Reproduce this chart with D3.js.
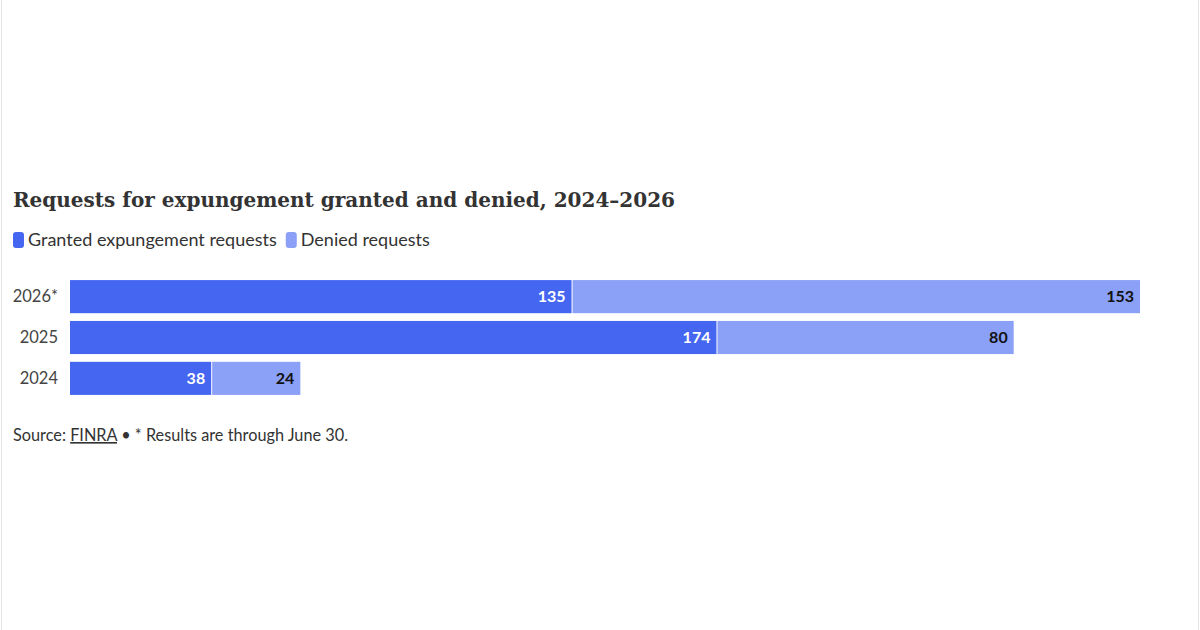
<!DOCTYPE html>
<html>
<head>
<meta charset="utf-8">
<script src="https://cdn.jsdelivr.net/npm/d3@7"></script>
<style>
  html, body { margin: 0; padding: 0; background: #fff; }
  svg { display: block; }
</style>
</head>
<body>
<svg id="chart" width="1200" height="630"></svg>
<script>
const categories = ["2026*", "2025", "2024"];
const seriesNames = ["Granted expungement requests", "Denied requests"];
const granted = [135, 174, 38];
const denied = [153, 80, 24];
const colors = ["#4566f0", "#8ba0f7"];
const labelColors = ["#ffffff", "#111111"];

const svg = d3.select("#chart");
const W = 1200, H = 630;

// side borders
svg.append("line").attr("x1", 1.5).attr("x2", 1.5).attr("y1", 0).attr("y2", H).attr("stroke", "#e6e6e6").attr("stroke-width", 1);
svg.append("line").attr("x1", W - 1.5).attr("x2", W - 1.5).attr("y1", 0).attr("y2", H).attr("stroke", "#e6e6e6").attr("stroke-width", 1);

// title
svg.append("text")
  .attr("x", 13).attr("y", 207)
  .attr("font-family", "'DejaVu Serif', serif")
  .attr("font-weight", "bold")
  .attr("font-size", 20)
  .attr("fill", "#333")
  .text("Requests for expungement granted and denied, 2024–2026");

// legend
const legend = svg.append("g");
let lx = 13;
seriesNames.forEach((name, i) => {
  legend.append("rect").attr("x", lx).attr("y", 232).attr("width", 11).attr("height", 16).attr("rx", 3).attr("fill", colors[i]);
  const t = legend.append("text").attr("x", lx + 15).attr("y", 246)
    .attr("font-family", "Lato, sans-serif").attr("font-size", 18).attr("fill", "#333").text(name);
  lx += 15 + t.node().getComputedTextLength() + 9;
});

// scales
const totals = categories.map((c, i) => granted[i] + denied[i]);
const x = d3.scaleLinear().domain([0, d3.max(totals)]).range([70, 1140]);
const y = d3.scaleBand().domain(categories).range([276, 399]).paddingInner(0.19).paddingOuter(0.1);

const stackData = categories.map((c, i) => ({ cat: c, g: granted[i], d: denied[i] }));
const stack = d3.stack().keys(["g", "d"])(stackData);

stack.forEach((layer, si) => {
  const g = svg.append("g");
  g.selectAll("rect").data(layer).enter().append("rect")
    .attr("x", d => x(d[0]) + (si > 0 ? 1 : 0))
    .attr("y", d => y(d.data.cat))
    .attr("width", d => x(d[1]) - x(d[0]) - (si > 0 ? 1 : 0))
    .attr("height", y.bandwidth())
    .attr("fill", colors[si]);
  g.selectAll("text").data(layer).enter().append("text")
    .attr("x", d => x(d[1]) - 6)
    .attr("y", d => y(d.data.cat) + y.bandwidth() / 2)
    .attr("dy", "0.35em")
    .attr("text-anchor", "end")
    .attr("font-family", "Lato, sans-serif")
    .attr("font-weight", "bold")
    .attr("font-size", 16)
    .attr("fill", labelColors[si])
    .text(d => d[1] - d[0]);
});

// y axis labels
const yAxis = d3.axisLeft(y).tickSize(0).tickPadding(12);
const ya = svg.append("g").attr("transform", "translate(70,0)").call(yAxis);
ya.select(".domain").remove();
ya.selectAll("text").attr("font-family", "Lato, sans-serif").attr("font-size", 16.5).attr("fill", "#444");

// source
const src = svg.append("text").attr("x", 13).attr("y", 441)
  .attr("font-family", "Lato, sans-serif").attr("font-size", 16.3).attr("fill", "#333");
src.append("tspan").text("Source: ");
src.append("tspan").attr("text-decoration", "underline").text("FINRA");
src.append("tspan").text(" • * Results are through June 30.");
</script>
</body>
</html>
